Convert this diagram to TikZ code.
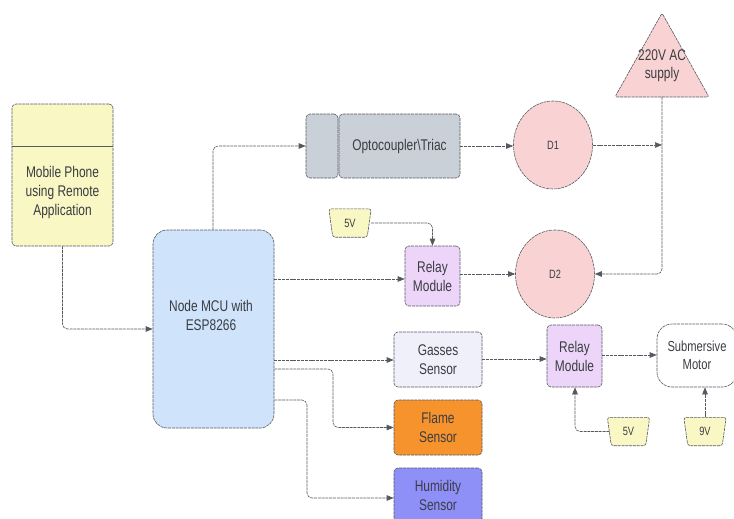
\documentclass[tikz,border=0pt]{standalone}
\usepackage{fontspec}
\setmainfont[FakeStretch=0.77]{Liberation Sans}
\usetikzlibrary{arrows.meta,shapes.geometric}
\definecolor{lnc}{HTML}{555A60}
\definecolor{txc}{HTML}{3A3D42}
\definecolor{cyel}{HTML}{F9F7C4}
\definecolor{cmcu}{HTML}{CFE3FB}
\definecolor{copt}{HTML}{CAD0D8}
\definecolor{cpink}{HTML}{F9D3D3}
\definecolor{crel}{HTML}{EDD5F9}
\definecolor{cgas}{HTML}{F0F0FB}
\definecolor{cfla}{HTML}{F7932D}
\definecolor{chum}{HTML}{8F8FF8}
\tikzset{
  bord/.style={draw=lnc, line width=0.6pt, dash pattern=on 3pt off 0.8pt},
  box/.style={bord, rounded corners=4pt, align=center, text=txc, inner sep=1pt,
    font=\fontsize{15.5}{19}\selectfont},
  conn/.style={draw=lnc, line width=0.6pt, dash pattern=on 3pt off 0.8pt, rounded corners=5pt,
    -{Triangle[length=7pt,width=5.5pt]}},
  small/.style={font=\fontsize{12}{14}\selectfont, text=txc},
  volt/.style={minimum width=42pt, minimum height=28pt, small, inner sep=0pt},
  circ/.style={bord, ellipse, fill=cpink, minimum width=79pt, minimum height=88pt, small},
}
\newcommand{\trap}[1]{%
  \draw[bord, fill=cyel, rounded corners=2.5pt] (#1.north west) -- (#1.north east)
    -- ([xshift=-4pt]#1.south east) -- ([xshift=4pt]#1.south west) -- cycle;}
\begin{document}
\begin{tikzpicture}[x=1pt,y=-1pt]
\useasboundingbox (0,0) rectangle (734,519);
% Mobile phone
\node[box, fill=cyel, minimum width=101pt, minimum height=142pt] (mobile) at (62.5,175) {};
\draw[draw=lnc, line width=0.6pt] (mobile.west |- 0,146) -- (mobile.east |- 0,146);
\node[align=center, text=txc, font=\fontsize{15.5}{19}\selectfont] (mobiletxt) at (62.5,192) {Mobile Phone\\using Remote\\Application};
% MCU
\node[box, fill=cmcu, rounded corners=14pt, minimum width=121pt, minimum height=198pt] (mcu) at (213.5,329) {};
\node[align=center, text=txc, font=\fontsize{15.5}{19}\selectfont] (mcutxt) at (211,315) {Node MCU with\\ESP8266};
% Optocoupler
\node[box, fill=copt, minimum width=32pt, minimum height=64pt] (optl) at (322,146) {};
\node[box, fill=copt, minimum width=121pt, minimum height=64pt] (opt) at (399.5,146) {Optocoupler\textbackslash Triac};
% D1, D2
\node[circ] (d1) at (553,145) {D1};
\node[circ] (d2) at (555,274) {D2};
% triangle
\draw[bord, fill=cpink, rounded corners=2pt] (662,13) -- (709,97) -- (615,97) -- cycle;
\coordinate (tri) at (662,97);
\node[align=center, text=txc, font=\fontsize{15.5}{18}\selectfont] (tritxt) at (662,66) {220V AC\\supply};
% 5V top and relay 1
\node[volt] (v1) at (350,223) {};
\trap{v1}
\node[small] (v1t) at (v1) {5V};
\node[box, fill=crel, minimum width=55pt, minimum height=60pt] (relay1) at (432.5,276) {Relay\\Module};
% sensors
\node[box, fill=cgas, minimum width=88pt, minimum height=55pt] (gas) at (438,359.5) {Gasses\\Sensor};
\node[box, fill=cfla, minimum width=88pt, minimum height=55pt] (flame) at (438,427.5) {Flame\\Sensor};
\node[box, fill=chum, minimum width=88pt, minimum height=55pt] (hum) at (438,495.5) {Humidity\\Sensor};
% relay 2, motor
\node[box, fill=crel, minimum width=55pt, minimum height=62pt] (relay2) at (574.5,356) {Relay\\Module};
\node[box, fill=white, rounded corners=15pt, minimum width=80pt, minimum height=63pt,
  font=\fontsize{14.5}{17.5}\selectfont] (motor) at (697,355.5) {Submersive\\Motor};
\node[volt] (v2) at (628.5,431.5) {};
\trap{v2}
\node[small] (v2t) at (v2) {5V};
\node[volt] (v3) at (705,431.5) {};
\trap{v3}
\node[small] (v3t) at (v3) {9V};
% connectors
\draw[conn] (mobile.south) |- (mcu.west |- 0,329);
\draw[conn] (mcu.north -| 213,0) |- (optl.west);
\draw[conn] (opt.east) -- (d1.west |- opt.east);
\draw[conn] (d1.east) -- (tri |- d1.east);
\draw[conn] (tri) |- (d2.east);
\draw[conn] (v1.east) -| (relay1.north);
\draw[conn] (mcu.east |- 0,279) -- (relay1.west |- 0,279);
\draw[conn] (relay1.east |- 0,274) -- (d2.west);
\draw[conn] (mcu.east |- 0,360) -- (gas.west |- 0,360);
\draw[conn] (mcu.east |- 0,369) -| (333,400) |- (flame.west);
\draw[conn] (mcu.east |- 0,400) -| (307,450) |- (hum.west |- 0,498);
\draw[conn] (gas.east |- 0,359) -- (relay2.west |- 0,359);
\draw[conn] (relay2.east |- 0,355) -- (motor.west |- 0,355);
\draw[conn] ([xshift=2pt]v2.west) -| (relay2.south -| 575,0);
\draw[conn] (v3.north) -- (motor.south -| v3.north);
\end{tikzpicture}
\end{document}
